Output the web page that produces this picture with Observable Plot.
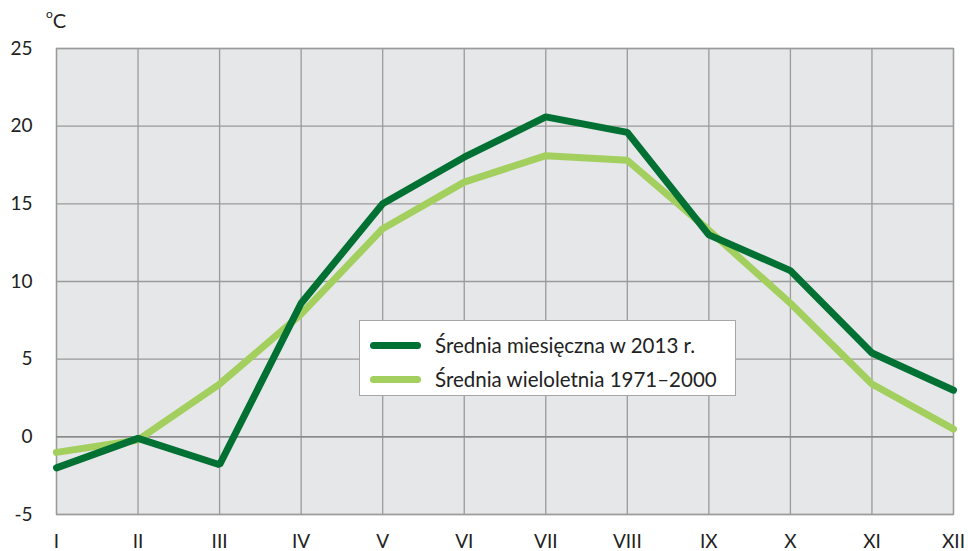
<!DOCTYPE html>
<html><head><meta charset="utf-8">
<script src="https://cdn.jsdelivr.net/npm/d3@7"></script>
<script src="https://cdn.jsdelivr.net/npm/@observablehq/plot@0.6"></script>
<style>
body{margin:0;background:#fff;font-family:Lato,"Open Sans",sans-serif;}
#wrap{position:relative;width:968px;height:551px;}
#unit{position:absolute;left:46px;top:8px;font-size:20px;color:#222;}
#unit sup{font-size:12px;position:relative;top:-2px;}
#legend{position:absolute;left:359px;top:320px;width:375px;height:74px;background:#fff;border:1px solid #a6a6a6;font-size:20.5px;color:#222;}
.row{position:absolute;left:10px;height:24px;display:flex;align-items:center;}
.sw{width:51px;height:7px;border-radius:4px;margin-right:14px;}
</style></head>
<body><div id="wrap"><div id="chart"></div>
<div id="unit"><sup>o</sup>C</div>
<div id="legend"></div></div>
<script>
const months = ["I","II","III","IV","V","VI","VII","VIII","IX","X","XI","XII"];
const mean2013 = [-2.0, -0.1, -1.8, 8.6, 15.0, 18.0, 20.6, 19.6, 13.0, 10.7, 5.4, 3.0];
const meanLong = [-1.0, -0.2, 3.4, 7.9, 13.4, 16.4, 18.1, 17.8, 13.3, 8.6, 3.4, 0.5];
const seriesNames = ["Średnia miesięczna w 2013 r.", "Średnia wieloletnia 1971–2000"];
const colors = ["#007033", "#a3cf5f"];
const yTicks = [-5, 0, 5, 10, 15, 20, 25];

const data = [];
months.forEach((m, i) => {
  data.push({i: i + 1, v: mean2013[i], s: seriesNames[0]});
  data.push({i: i + 1, v: meanLong[i], s: seriesNames[1]});
});

const chart = Plot.plot({
  width: 968, height: 551,
  marginLeft: 56, marginRight: 15, marginTop: 48, marginBottom: 37,
  style: {fontFamily: "Lato, 'Open Sans', sans-serif", fontSize: "19px", color: "#222", background: "transparent", overflow: "visible"},
  x: {domain: [1, 12], ticks: d3.range(1, 13), tickFormat: d => months[d - 1], tickSize: 0, tickPadding: 20, label: null},
  y: {domain: [-5, 25], ticks: yTicks, tickFormat: d => String(d), tickSize: 0, tickPadding: 24, label: null},
  color: {domain: seriesNames, range: colors},
  marks: [
    Plot.frame({fill: "#e6e7e8", stroke: "#9a9a9a", strokeWidth: 1.3}),
    Plot.gridX(d3.range(1, 13), {stroke: "#9a9a9a", strokeOpacity: 1, strokeWidth: 1.3}),
    Plot.gridY(yTicks, {stroke: "#9a9a9a", strokeOpacity: 1, strokeWidth: 1.3}),
    Plot.ruleY([0], {stroke: "#8a8a8a", strokeWidth: 1.5}),
    Plot.line(data.filter(d => d.s === seriesNames[1]), {x: "i", y: "v", stroke: "s", strokeWidth: 7, strokeLinejoin: "miter"}),
    Plot.line(data.filter(d => d.s === seriesNames[0]), {x: "i", y: "v", stroke: "s", strokeWidth: 7, strokeLinejoin: "miter"})
  ]
});
document.getElementById("chart").appendChild(chart);

const lg = document.getElementById("legend");
seriesNames.forEach((n, k) => {
  const r = document.createElement("div");
  r.className = "row";
  r.style.top = (12 + k * 34) + "px";
  r.innerHTML = `<span class="sw" style="background:${colors[k]}"></span><span>${n}</span>`;
  lg.appendChild(r);
});
</script></body></html>
